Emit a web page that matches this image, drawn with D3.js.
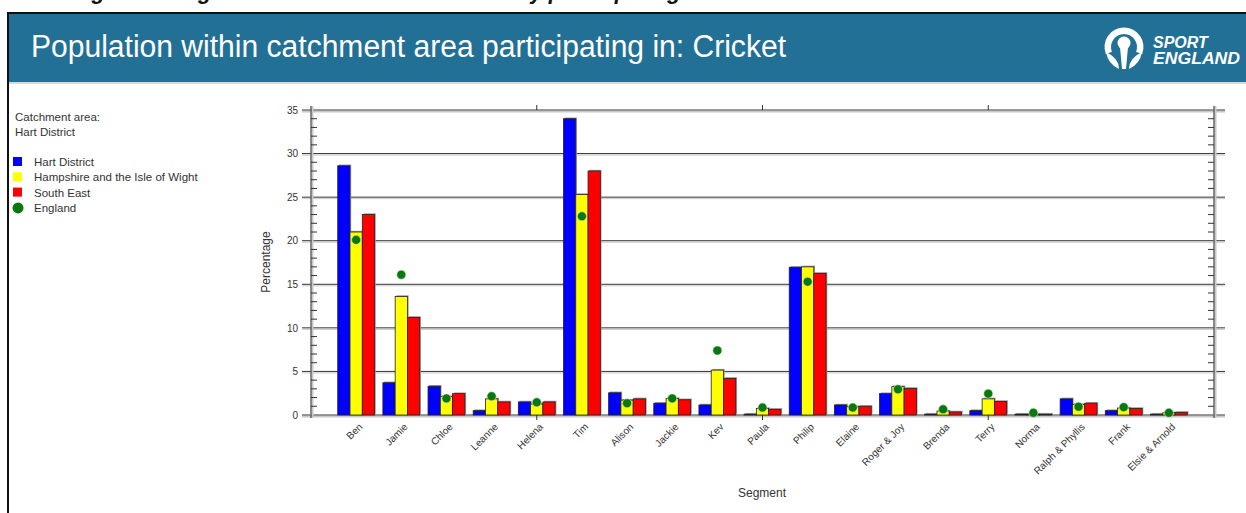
<!DOCTYPE html>
<meta charset="utf-8">
<head>
  <title>Cricket participation by segment</title>
  <script src="https://d3js.org/d3.v7.min.js"></script>
  <style>
    body { margin: 0; padding: 0; background: #fff; }
    svg { display: block; font-family: "Liberation Sans", Arial, sans-serif; }
    .ylab text, .xlab text { fill: #333; font-size: 10px; }
  </style>
</head>
<body>
<svg id="chart" width="1246" height="513"></svg>
<script>
  // data
  var segments = ["Ben", "Jamie", "Chloe", "Leanne", "Helena", "Tim", "Alison", "Jackie", "Kev", "Paula",
    "Philip", "Elaine", "Roger & Joy", "Brenda", "Terry", "Norma", "Ralph & Phyllis", "Frank", "Elsie & Arnold"];
  var hart      = [28.6, 3.7, 3.3, 0.5, 1.5, 34.0, 2.55, 1.35, 1.15, 0.1, 16.95, 1.15, 2.45, 0.1, 0.5, 0.1, 1.85, 0.5, 0.1];
  var hampshire = [21.0, 13.6, 2.1, 1.85, 1.25, 25.3, 1.7, 1.9, 5.15, 0.75, 17.0, 0.95, 3.25, 0.45, 1.85, 0.1, 1.2, 0.8, 0.25];
  var southEast = [23.0, 11.2, 2.45, 1.5, 1.5, 28.0, 1.85, 1.75, 4.2, 0.65, 16.25, 1.0, 3.05, 0.35, 1.55, 0.1, 1.35, 0.75, 0.3];
  var england   = [20.1, 16.1, 1.9, 2.15, 1.45, 22.8, 1.35, 1.9, 7.4, 0.85, 15.3, 0.85, 2.95, 0.65, 2.45, 0.25, 0.95, 0.9, 0.25];
  var yTicks = [0, 5, 10, 15, 20, 25, 30, 35];
  var seriesNames = ["Hart District", "Hampshire and the Isle of Wight", "South East", "England"];
  var seriesColors = ["#0000ff", "#ffff00", "#ff0000", "#08780f"];

  var svg = d3.select("#chart");

  // clipped heading from the page above
  svg.append("text")
    .attr("x", 72).attr("y", -1)
    .attr("font-size", 22).attr("font-weight", "bold").attr("font-style", "italic")
    .attr("fill", "#111")
    .text("Figure 6: Segmentation of catchment area by participating in");

  // frame
  svg.append("line").attr("x1", 7).attr("x2", 1246).attr("y1", 13).attr("y2", 13)
    .attr("stroke", "#111").attr("stroke-width", 2);
  svg.append("line").attr("x1", 8).attr("x2", 8).attr("y1", 13).attr("y2", 513)
    .attr("stroke", "#111").attr("stroke-width", 2);

  // header band
  svg.append("rect").attr("x", 9).attr("y", 14).attr("width", 1237).attr("height", 68).attr("fill", "#237097");
  svg.append("rect").attr("x", 9).attr("y", 82).attr("width", 1237).attr("height", 2).attr("fill", "#c9dce7");
  svg.append("text")
    .attr("x", 31).attr("y", 57)
    .attr("font-size", 31).attr("fill", "#fff")
    .attr("textLength", 755).attr("lengthAdjust", "spacingAndGlyphs")
    .text("Population within catchment area participating in: Cricket");

  // logo
  var logo = svg.append("g").attr("fill", "#fff");
  logo.append("path")
    .attr("d", d3.arc().innerRadius(13).outerRadius(19.5).startAngle(-Math.PI * 0.62).endAngle(Math.PI * 0.62)())
    .attr("transform", "translate(1124,47)");
  logo.append("circle").attr("cx", 1124).attr("cy", 43).attr("r", 6.5);
  logo.append("path").attr("d", "M1120,47 L1128,47 L1126,69 L1122,69 Z");
  logo.append("path").attr("d", "M1106,52 Q1108,64 1119,69 Q1119,58 1106,52 Z");
  logo.append("path").attr("d", "M1142,52 Q1140,64 1129,69 Q1129,58 1142,52 Z");
  logo.append("text").attr("x", 1153).attr("y", 48)
    .attr("font-size", 16).attr("font-weight", "bold").attr("font-style", "italic").text("SPORT");
  logo.append("text").attr("x", 1153).attr("y", 64)
    .attr("font-size", 16).attr("font-weight", "bold").attr("font-style", "italic")
    .attr("textLength", 87).attr("lengthAdjust", "spacingAndGlyphs").text("ENGLAND");

  // legend
  svg.append("text").attr("x", 15).attr("y", 121).attr("font-size", 11.5).attr("fill", "#333").text("Catchment  area:");
  svg.append("text").attr("x", 15).attr("y", 136).attr("font-size", 11.5).attr("fill", "#333").text("Hart  District");
  var leg = svg.append("g").selectAll("g").data(seriesNames).enter().append("g")
    .attr("transform", function(d, i) { return "translate(13," + (162 + i * 15.3) + ")"; });
  leg.each(function(d, i) {
    var g = d3.select(this);
    if (i < 3) g.append("rect").attr("x", 0).attr("y", -5).attr("width", 9).attr("height", 9).attr("fill", seriesColors[i]);
    else g.append("circle").attr("cx", 5).attr("cy", 0).attr("r", 5.5).attr("fill", seriesColors[i]);
  });
  leg.append("text").attr("x", 21).attr("y", 4).attr("font-size", 11.5).attr("fill", "#333").text(function(d) { return d; });

  // scales
  var x = d3.scaleLinear().domain([0, 20]).range([311, 1214]);
  var y = d3.scaleLinear().domain([0, 35]).range([415, 110]);
  var step = x(1) - x(0);
  var bw = step * 0.272;

  // gridlines
  var grid = svg.append("g");
  yTicks.forEach(function(v) {
    var edge = (v === 0 || v === 35);
    grid.append("line").attr("x1", 302).attr("x2", 1225).attr("y1", y(v) + 1.5).attr("y2", y(v) + 1.5)
      .attr("stroke", "#c8c8c8").attr("stroke-width", edge ? 2 : 1);
    grid.append("line").attr("x1", 302).attr("x2", 1225).attr("y1", y(v)).attr("y2", y(v))
      .attr("stroke", edge ? "#777" : "#333").attr("stroke-width", edge ? 1.5 : 1);
  });

  // side axes with minor ticks
  [x(0), x(20)].forEach(function(ax, k) {
    svg.append("line").attr("x1", ax + 1.5).attr("x2", ax + 1.5).attr("y1", y(35) - 4).attr("y2", y(0) + 3)
      .attr("stroke", "#c8c8c8").attr("stroke-width", 2);
    svg.append("line").attr("x1", ax).attr("x2", ax).attr("y1", y(35) - 4).attr("y2", y(0) + 3)
      .attr("stroke", "#666").attr("stroke-width", 1.5);
    svg.append("g").selectAll("line").data(d3.range(1, 35).filter(function(v) { return v % 5; }))
      .enter().append("line")
      .attr("x1", k ? ax - 6 : ax).attr("x2", k ? ax : ax + 6)
      .attr("y1", function(v) { return y(v); }).attr("y2", function(v) { return y(v); })
      .attr("stroke", "#333");
  });

  // top and bottom ticks every 5 units
  svg.append("g").selectAll("line").data([5, 10, 15]).enter().append("line")
    .attr("x1", function(v) { return x(v); }).attr("x2", function(v) { return x(v); })
    .attr("y1", y(35) - 5).attr("y2", y(35)).attr("stroke", "#333");
  svg.append("g").selectAll("line").data([5, 10, 15]).enter().append("line")
    .attr("x1", function(v) { return x(v); }).attr("x2", function(v) { return x(v); })
    .attr("y1", y(0)).attr("y2", y(0) + 5).attr("stroke", "#333");

  // y labels
  svg.append("g").attr("class", "ylab").attr("transform", "translate(" + x(0) + ",0)")
    .call(d3.axisLeft(y).tickValues(yTicks).tickSize(0).tickPadding(13))
    .call(function(g) { g.select(".domain").remove(); });

  // x labels
  svg.append("g").attr("class", "xlab").attr("transform", "translate(0," + (y(0) + 4) + ")")
    .call(d3.axisBottom(x).tickValues(d3.range(1, 20)).tickSize(0).tickPadding(0)
      .tickFormat(function(i) { return segments[i - 1]; }))
    .call(function(g) { g.select(".domain").remove(); })
    .selectAll("text")
    .attr("text-anchor", "end").attr("dy", "0.35em")
    .attr("transform", "translate(4,6) rotate(-45)");

  // bars
  var series = [hart, hampshire, southEast];
  var bars = svg.append("g");
  series.forEach(function(vals, s) {
    var g = bars.append("g");
    g.selectAll("rect.sh").data(vals).enter().append("rect").attr("class", "sh")
      .attr("x", function(d, i) { return x(i + 1) - 1.5 * bw + s * bw + 1.2; })
      .attr("y", function(d) { return y(d) - 1.2; })
      .attr("width", bw).attr("height", function(d) { return y(0) - y(d); })
      .attr("fill", "#9a9a9a");
    g.selectAll("rect.bar").data(vals).enter().append("rect").attr("class", "bar")
      .attr("x", function(d, i) { return x(i + 1) - 1.5 * bw + s * bw; })
      .attr("y", function(d) { return y(d); })
      .attr("width", bw).attr("height", function(d) { return y(0) - y(d); })
      .attr("fill", seriesColors[s]).attr("stroke", "#222").attr("stroke-width", 0.8);
  });

  // England dots
  svg.append("g").selectAll("circle").data(england).enter().append("circle")
    .attr("cx", function(d, i) { return x(i + 1); })
    .attr("cy", function(d) { return y(d); })
    .attr("r", 4.5)
    .attr("fill", seriesColors[3]).attr("stroke", "#cfe3cf").attr("stroke-width", 0.6);

  // axis titles
  svg.append("text").attr("transform", "translate(270,262) rotate(-90)")
    .attr("text-anchor", "middle").attr("font-size", 12).attr("fill", "#333").text("Percentage");
  svg.append("text").attr("x", 762).attr("y", 497)
    .attr("text-anchor", "middle").attr("font-size", 12).attr("fill", "#333").text("Segment");
</script>
</body>
